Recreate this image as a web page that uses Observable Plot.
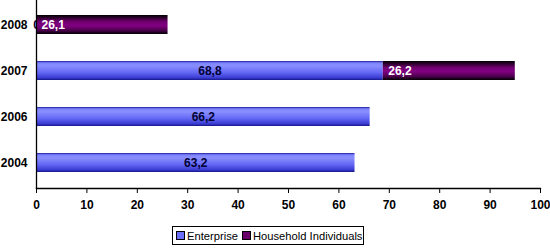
<!DOCTYPE html>
<html>
<head>
<meta charset="utf-8">
<script src="https://cdn.jsdelivr.net/npm/d3@7"></script>
<script src="https://cdn.jsdelivr.net/npm/@observablehq/plot@0.6"></script>
<style>
  html, body { margin: 0; padding: 0; background: #fff; }
  body { width: 550px; height: 248px; position: relative; font-family: "Liberation Sans", Arial, sans-serif; overflow: hidden; }
  #chart { position: absolute; left: 0; top: 0; }
  #legend { position: absolute; left: 172px; top: 226px; height: 17px; border: 1px solid #000; background: #fff;
            display: flex; align-items: center; padding: 0 1px 0 2px; font-size: 11.2px; color: #000; white-space: nowrap; }
  .sw { display: inline-block; width: 7px; height: 7px; border: 1px solid #000; margin: 0 2px 0 1px; }
</style>
</head>
<body>
<div id="chart"></div>
<div id="legend"></div>
<script>
const years = ["2008", "2007", "2006", "2004"];
const enterprise = [0, 68.8, 66.2, 63.2];
const household = [26.1, 26.2, null, null];
const seriesNames = ["Enterprise", "Household Individuals"];
const xTicks = [0, 10, 20, 30, 40, 50, 60, 70, 80, 90, 100];

const rows = years.map((y, i) => ({year: y, ent: enterprise[i], hh: household[i]}));
const hhRows = rows.filter(d => d.hh != null);
const fmt = v => String(v).replace(".", ",");

const plot = Plot.plot({
  width: 550,
  height: 222,
  marginLeft: 36,
  marginRight: 10,
  marginTop: 0,
  marginBottom: 34,
  style: {fontFamily: "'Liberation Sans', Arial, sans-serif", fontSize: "12px", background: "transparent"},
  x: {domain: [0, 100], ticks: xTicks, label: null},
  y: {domain: years, paddingInner: 0.58, paddingOuter: 0.3, label: null},
  marks: [
    Plot.barX(rows, {y: "year", x1: 0, x2: "ent", fill: "url(#gBlue)"}),
    Plot.text(rows, {y: "year", x: d => d.ent / 2, text: d => fmt(d.ent), fill: "#000033", fontWeight: "bold", fontSize: 12}),
    Plot.barX(hhRows, {y: "year", x1: "ent", x2: d => d.ent + d.hh, fill: "url(#gPurple)"}),
    Plot.text(hhRows, {y: "year", x: "ent", text: d => fmt(d.hh), fill: "#ffffff", fontWeight: "bold", fontSize: 12, textAnchor: "start", dx: 5}),
    Plot.axisX({ticks: xTicks, tickSize: 5, tickPadding: 7, fontWeight: "bold", fontSize: 12, stroke: "#000", fill: "#000", tickFormat: d => String(d)}),
    Plot.axisY({tickSize: 0, tickPadding: 9, fontWeight: "bold", fontSize: 12, fill: "#000"}),
    Plot.frame({anchor: "bottom", stroke: "#000", strokeWidth: 1.3}),
    Plot.frame({anchor: "left", stroke: "#000", strokeWidth: 1.3})
  ]
});

const ns = "http://www.w3.org/2000/svg";
const defs = document.createElementNS(ns, "defs");
defs.innerHTML = `
  <linearGradient id="gBlue" x1="0" y1="0" x2="0" y2="1">
    <stop offset="0" stop-color="#1c1c98"/>
    <stop offset="0.1" stop-color="#7f84ff"/>
    <stop offset="0.25" stop-color="#8a8fff"/>
    <stop offset="0.6" stop-color="#6468f4"/>
    <stop offset="0.88" stop-color="#3a3cd2"/>
    <stop offset="1" stop-color="#16168a"/>
  </linearGradient>
  <linearGradient id="gPurple" x1="0" y1="0" x2="0" y2="1">
    <stop offset="0" stop-color="#000000"/>
    <stop offset="0.35" stop-color="#700070"/>
    <stop offset="0.55" stop-color="#820082"/>
    <stop offset="0.8" stop-color="#500050"/>
    <stop offset="1" stop-color="#000000"/>
  </linearGradient>`;
plot.insertBefore(defs, plot.firstChild);
document.getElementById("chart").appendChild(plot);

const legend = document.getElementById("legend");
const swColors = ["#6a6ef8", "#6a006a"];
seriesNames.forEach((name, i) => {
  const sw = document.createElement("span");
  sw.className = "sw";
  sw.style.background = swColors[i];
  if (i > 0) sw.style.marginLeft = "4px";
  legend.appendChild(sw);
  const t = document.createElement("span");
  t.textContent = name;
  legend.appendChild(t);
});
</script>
</body>
</html>
